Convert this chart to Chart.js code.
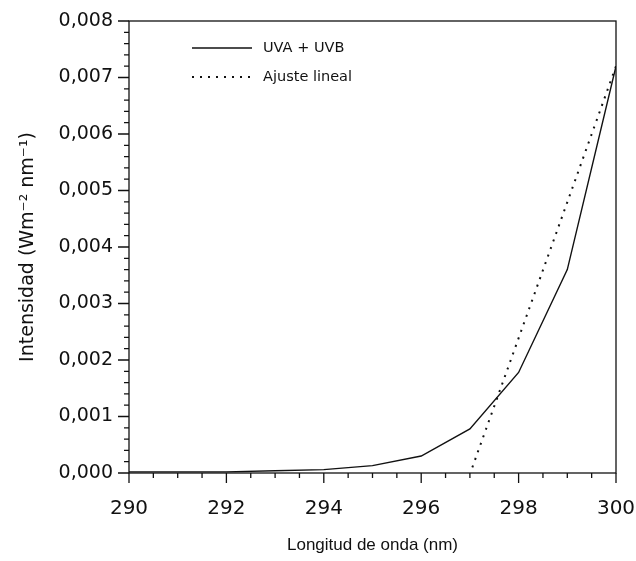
<!DOCTYPE html>
<html>
<head>
<meta charset="utf-8">
<script src="https://cdn.jsdelivr.net/npm/chart.js@4/dist/chart.umd.min.js"></script>
<style>
  html, body { margin: 0; padding: 0; background: #ffffff; }
  #wrap { width: 636px; height: 561px; }
</style>
</head>
<body>
<div id="wrap"><canvas id="chart" width="636" height="561"></canvas></div>
<script>
// Spectral irradiance between 290 and 300 nm
const wavelengths = [290, 291, 292, 293, 294, 295, 296, 297, 298, 299, 300];
const uvaUvb = [0.00002, 0.00002, 0.00002, 0.00004, 0.00006, 0.00013, 0.0003, 0.00078, 0.00178, 0.0036, 0.0072];

// End points of the straight-line fit
const fitWavelengths = [297.05, 300];
const fitIntensity = [0.0001, 0.0072];

const seriesLabels = ['UVA + UVB', 'Ajuste lineal'];
const xTickValues = [290, 292, 294, 296, 298, 300];
const yTickValues = [0, 0.001, 0.002, 0.003, 0.004, 0.005, 0.006, 0.007, 0.008];

const WIDE = '"DejaVu Sans", Verdana, sans-serif';
const NARROW = '"Liberation Sans", Arial, Helvetica, sans-serif';
const INK = '#111111';

const toPoints = (xs, ys) => xs.map((x, i) => ({ x: x, y: ys[i] }));

// Frame around the plot plus outward major/minor ticks
const framePlugin = {
  id: 'frame',
  afterDatasetsDraw(chart) {
    const { ctx, chartArea: a, scales: { x, y } } = chart;
    ctx.save();
    ctx.strokeStyle = INK;
    ctx.lineWidth = 1.3;
    ctx.strokeRect(a.left, a.top, a.right - a.left, a.bottom - a.top);
    ctx.beginPath();
    for (let v = 0; v <= 20; v++) {
      const px = x.getPixelForValue(290 + v * 0.5);
      const len = (v % 4 === 0) ? 10 : 5;
      ctx.moveTo(px, a.bottom);
      ctx.lineTo(px, a.bottom + len);
    }
    for (let v = 0; v <= 40; v++) {
      const py = y.getPixelForValue(v * 0.0002);
      const len = (v % 5 === 0) ? 11 : 5;
      ctx.moveTo(a.left, py);
      ctx.lineTo(a.left - len, py);
    }
    ctx.stroke();
    ctx.restore();
  }
};

// Legend drawn inside the plot, upper left
const insideLegend = {
  id: 'insideLegend',
  afterDatasetsDraw(chart) {
    const { ctx, chartArea: a } = chart;
    ctx.save();
    ctx.font = '14.5px ' + WIDE;
    ctx.fillStyle = INK;
    ctx.textBaseline = 'middle';
    chart.data.datasets.forEach((ds, i) => {
      const yy = a.top + 27 + i * 29;
      const x0 = a.left + 63;
      const x1 = a.left + 123;
      ctx.beginPath();
      ctx.strokeStyle = ds.borderColor;
      ctx.lineWidth = ds.borderWidth;
      ctx.setLineDash(ds.borderDash || []);
      ctx.moveTo(x0, yy);
      ctx.lineTo(x1, yy);
      ctx.stroke();
      ctx.setLineDash([]);
      ctx.fillText(ds.label, x1 + 11, yy);
    });
    ctx.restore();
  }
};

new Chart(document.getElementById('chart'), {
  type: 'line',
  data: {
    datasets: [
      {
        label: seriesLabels[0],
        data: toPoints(wavelengths, uvaUvb),
        borderColor: INK,
        borderWidth: 1.4,
        pointRadius: 0,
        tension: 0,
        fill: false
      },
      {
        label: seriesLabels[1],
        data: toPoints(fitWavelengths, fitIntensity),
        borderColor: INK,
        borderWidth: 2,
        borderDash: [2, 6],
        pointRadius: 0,
        tension: 0,
        fill: false
      }
    ]
  },
  options: {
    responsive: false,
    devicePixelRatio: 1,
    animation: false,
    layout: { padding: { top: 21, right: 20, left: 0, bottom: 0 } },
    plugins: {
      legend: { display: false },
      tooltip: { enabled: false }
    },
    scales: {
      x: {
        type: 'linear',
        min: 290,
        max: 300,
        grid: { display: false, drawTicks: false },
        border: { display: false },
        afterBuildTicks: s => { s.ticks = xTickValues.map(v => ({ value: v })); },
        afterFit: s => { s.height = 88; s.paddingLeft = 0; s.paddingRight = 0; },
        ticks: {
          color: INK,
          font: { family: WIDE, size: 20 },
          padding: 24,
          maxRotation: 0,
          callback: v => String(v)
        },
        title: {
          display: true,
          text: 'Longitud de onda (nm)',
          color: INK,
          font: { family: NARROW, size: 17 },
          padding: { top: 4, bottom: 5 }
        }
      },
      y: {
        type: 'linear',
        min: 0,
        max: 0.008,
        grid: { display: false, drawTicks: false },
        border: { display: false },
        afterBuildTicks: s => { s.ticks = yTickValues.map(v => ({ value: v })); },
        afterFit: s => { s.width = 129; s.paddingTop = 0; s.paddingBottom = 0; },
        ticks: {
          color: INK,
          font: { family: WIDE, size: 19 },
          padding: 16,
          callback: v => Number(v).toFixed(3).replace('.', ',')
        },
        title: {
          display: true,
          text: 'Intensidad (Wm\u207B\u00B2 nm\u207B\u00B9)',
          color: INK,
          font: { family: WIDE, size: 19 },
          padding: { top: 17, bottom: 0 }
        }
      }
    }
  },
  plugins: [framePlugin, insideLegend]
});
</script>
</body>
</html>
